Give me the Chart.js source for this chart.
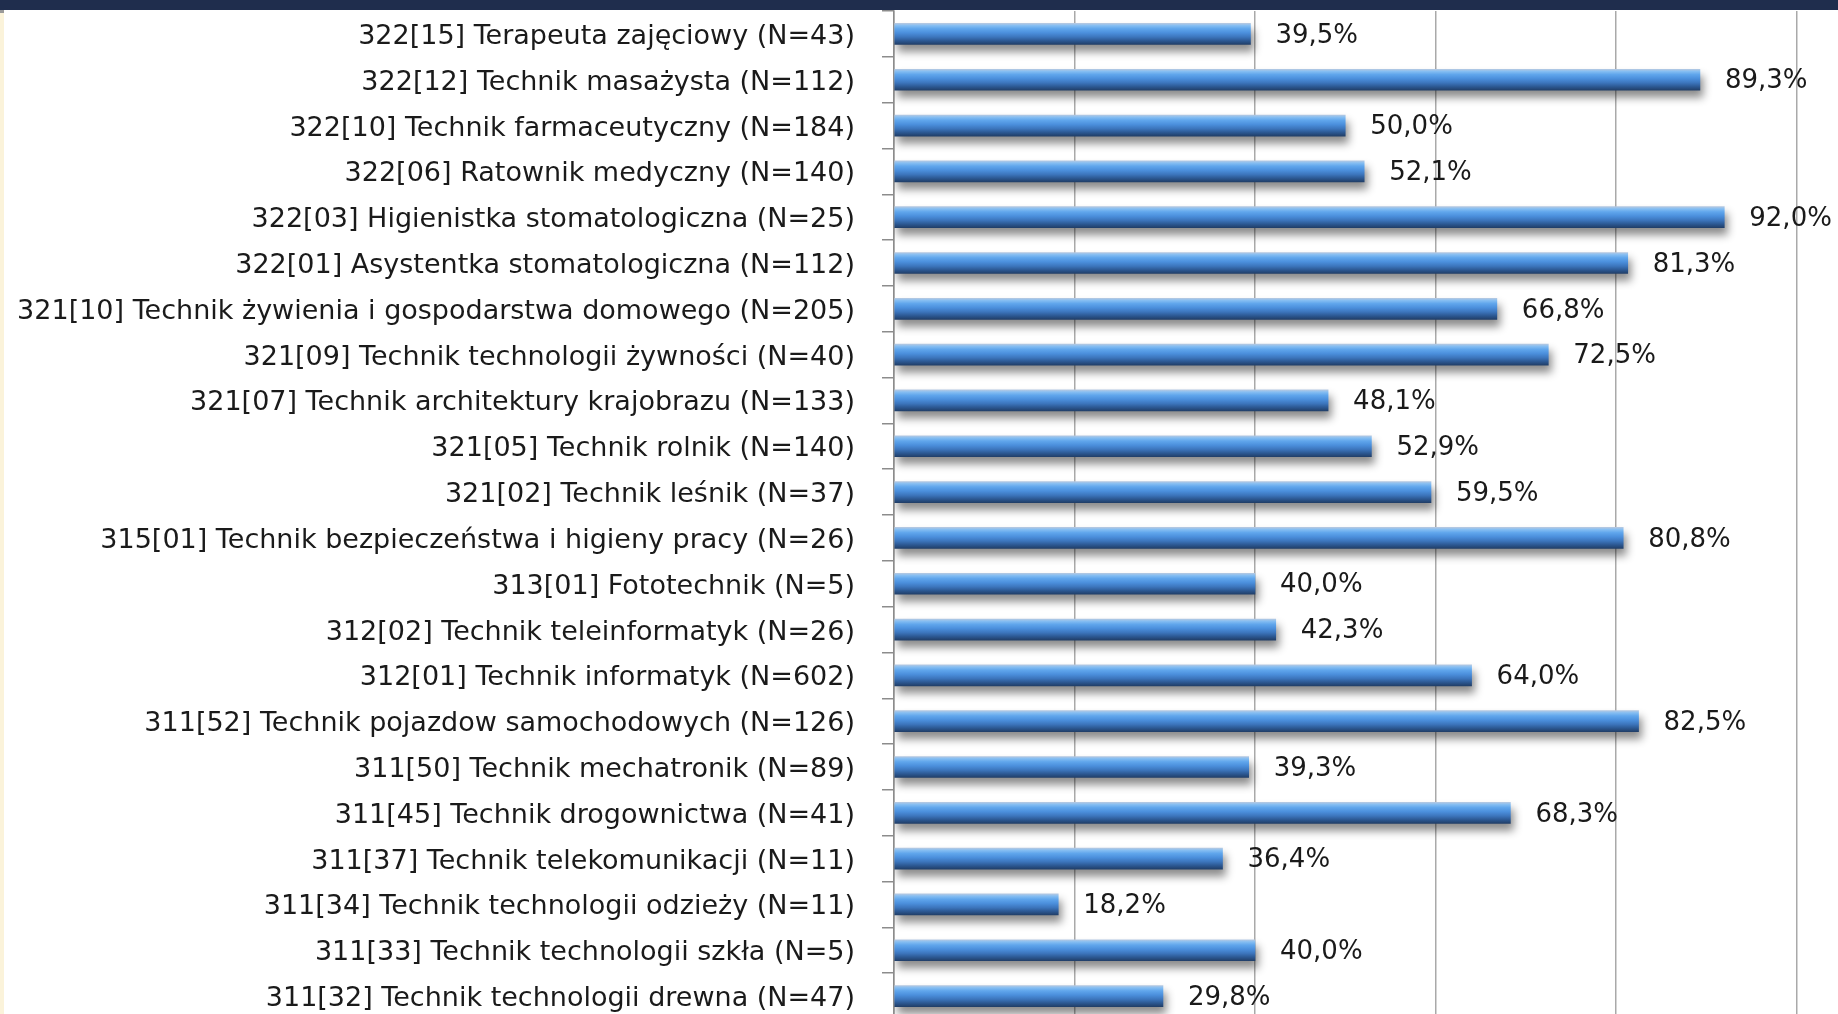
<!DOCTYPE html>
<html lang="pl">
<head>
  <meta charset="UTF-8">
  <title>Zawody - odsetek</title>
  <script src="https://cdn.jsdelivr.net/npm/chart.js"></script>
  <style>
    html, body { margin: 0; padding: 0; background: #fff; overflow: hidden; }
    #wrap { position: relative; width: 1838px; height: 1019px; }
    #topband { position: absolute; left: 0; top: 0; width: 1838px; height: 10px; background: #1f2d4d; z-index: 2; }
    #edge { position: absolute; left: 0; top: 10px; width: 4px; height: 1010px; background: #fbf3da; border-top: 3px solid #9a9a9a; z-index: 2; }
  </style>
</head>
<body>
  <div id="wrap">
    <div id="topband"></div>
    <div id="edge"></div>
    <canvas id="chart"></canvas>
  </div>

  <script>
    // categories (top to bottom)
    const categories = [
      '322[15] Terapeuta zajęciowy (N=43)',
      '322[12] Technik masażysta (N=112)',
      '322[10] Technik farmaceutyczny (N=184)',
      '322[06] Ratownik medyczny (N=140)',
      '322[03] Higienistka stomatologiczna (N=25)',
      '322[01] Asystentka stomatologiczna (N=112)',
      '321[10] Technik żywienia i gospodarstwa domowego (N=205)',
      '321[09] Technik technologii żywności (N=40)',
      '321[07] Technik architektury krajobrazu (N=133)',
      '321[05] Technik rolnik (N=140)',
      '321[02] Technik leśnik (N=37)',
      '315[01] Technik bezpieczeństwa i higieny pracy (N=26)',
      '313[01] Fototechnik (N=5)',
      '312[02] Technik teleinformatyk (N=26)',
      '312[01] Technik informatyk (N=602)',
      '311[52] Technik pojazdow samochodowych (N=126)',
      '311[50] Technik mechatronik (N=89)',
      '311[45] Technik drogownictwa (N=41)',
      '311[37] Technik telekomunikacji (N=11)',
      '311[34] Technik technologii odzieży (N=11)',
      '311[33] Technik technologii szkła (N=5)',
      '311[32] Technik technologii drewna (N=47)'
    ];

    // percentage values
    const values = [39.5, 89.3, 50.0, 52.1, 92.0, 81.3, 66.8, 72.5, 48.1, 52.9, 59.5,
                    80.8, 40.0, 42.3, 64.0, 82.5, 39.3, 68.3, 36.4, 18.2, 40.0, 29.8];

    // x gridline ticks
    const xTicks = [0, 20, 40, 60, 80, 100];

    const FONT = '"DejaVu Sans", sans-serif';
    const BAR_H = 21;

    // blue "cylinder" look
    function barGradient(ctx) {
      const chart = ctx.chart;
      const yScale = chart.scales.y;
      if (!yScale || ctx.dataIndex === undefined) return '#4a8ad4';
      const cy = yScale.getPixelForValue(ctx.dataIndex);
      if (!isFinite(cy)) return '#4a8ad4';
      const g = chart.ctx.createLinearGradient(0, cy - BAR_H / 2, 0, cy + BAR_H / 2);
      g.addColorStop(0, '#b3c8e2');
      g.addColorStop(0.1, '#86bef2');
      g.addColorStop(0.25, '#60a6ec');
      g.addColorStop(0.45, '#4b8fdc');
      g.addColorStop(0.65, '#3c75bc');
      g.addColorStop(0.83, '#2c5892');
      g.addColorStop(1, '#213f69');
      return g;
    }

    // soft shadow under bars (bars have no border, so no clip eats it)
    const shadowPlugin = {
      id: 'barShadow',
      beforeDatasetsDraw(chart) {
        const c = chart.ctx;
        c.save();
        c.shadowColor = 'rgba(0,0,0,0.45)';
        c.shadowBlur = 8;
        c.shadowOffsetX = 3;
        c.shadowOffsetY = 7;
      },
      afterDatasetsDraw(chart) {
        chart.ctx.restore();
      }
    };

    // value labels right of the bars
    const valueLabels = {
      id: 'valueLabels',
      afterDraw(chart) {
        const c = chart.ctx;
        const meta = chart.getDatasetMeta(0);
        c.save();
        c.font = '26px ' + FONT;
        c.fillStyle = '#1a1a1a';
        c.textAlign = 'left';
        c.textBaseline = 'middle';
        meta.data.forEach((bar, i) => {
          const txt = values[i].toFixed(1).replace('.', ',') + '%';
          c.fillText(txt, bar.x + 25, bar.y + 2);
        });
        c.restore();
      }
    };

    const ctx = document.getElementById('chart').getContext('2d');
    new Chart(ctx, {
      type: 'bar',
      data: {
        labels: categories,
        datasets: [{
          data: values,
          backgroundColor: barGradient,
          borderWidth: 0,
          barThickness: BAR_H
        }]
      },
      plugins: [shadowPlugin, valueLabels],
      options: {
        indexAxis: 'y',
        responsive: true,
        maintainAspectRatio: false,
        animation: false,
        layout: { padding: { top: 11, left: 0, right: 0, bottom: 0 } },
        plugins: {
          legend: { display: false },
          tooltip: { enabled: false }
        },
        scales: {
          x: {
            min: 0,
            max: 104.6,
            afterBuildTicks: scale => { scale.ticks = xTicks.map(v => ({ value: v })); },
            afterFit: scale => { scale.height = 0; scale.paddingLeft = 0; scale.paddingRight = 0; },
            ticks: { display: false },
            border: { display: false },
            grid: { color: '#a9a9a9', lineWidth: 1.5, drawTicks: false }
          },
          y: {
            afterFit: scale => { scale.width = 894; scale.paddingTop = 0; scale.paddingBottom = 0; },
            ticks: {
              color: '#1a1a1a',
              padding: 27,
              labelOffset: 3,
              autoSkip: false,
              font: { family: FONT, size: 27 }
            },
            border: { display: true, color: '#8c8c8c', width: 1.5 },
            grid: {
              offset: true,
              drawOnChartArea: false,
              tickLength: 12,
              color: '#8c8c8c',
              lineWidth: 1.5
            }
          }
        }
      }
    });
  </script>
</body>
</html>
